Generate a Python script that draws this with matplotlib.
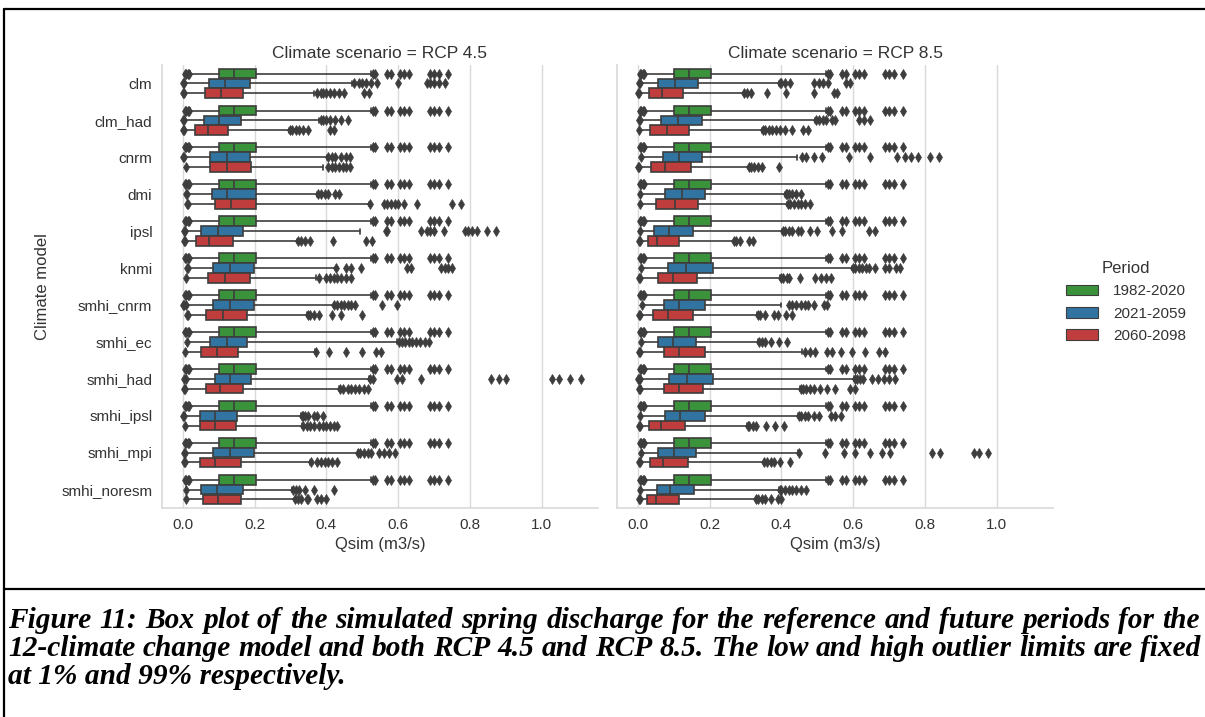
import numpy as np
import matplotlib.pyplot as plt
import seaborn as sns
from matplotlib.lines import Line2D
from matplotlib.patches import Patch

models = ['clm', 'clm_had', 'cnrm', 'dmi', 'ipsl', 'knmi', 'smhi_cnrm',
          'smhi_ec', 'smhi_had', 'smhi_ipsl', 'smhi_mpi', 'smhi_noresm']
periods = ['1982-2020', '2021-2059', '2060-2098']
scenarios = ['RCP 4.5', 'RCP 8.5']

# each row: whisker low (1%), q1, median, q3, whisker high (99%)
# reference period is the same for every model and both scenarios
ref_box = [0.020, 0.101, 0.143, 0.204, 0.524]
ref_fliers = [0.006, 0.010, 0.014, 0.018, 0.53, 0.535, 0.57, 0.58, 0.605, 0.615,
              0.63, 0.69, 0.70, 0.715, 0.74]

rcp45_mid = [
    [0.005, 0.072, 0.117, 0.187, 0.471],
    [0.005, 0.058, 0.101, 0.162, 0.380],
    [0.005, 0.075, 0.123, 0.187, 0.403],
    [0.013, 0.081, 0.124, 0.203, 0.375],
    [0.007, 0.050, 0.097, 0.169, 0.494],
    [0.016, 0.085, 0.132, 0.199, 0.426],
    [0.010, 0.085, 0.132, 0.199, 0.420],
    [0.014, 0.075, 0.123, 0.180, 0.596],
    [0.010, 0.089, 0.131, 0.191, 0.519],
    [0.005, 0.048, 0.089, 0.150, 0.329],
    [0.007, 0.083, 0.132, 0.197, 0.487],
    [0.010, 0.050, 0.095, 0.167, 0.305],
]
rcp45_mid_fliers = [
    [0.0, 0.003, 0.478, 0.49, 0.50, 0.51, 0.525, 0.54, 0.60, 0.68, 0.69, 0.70, 0.715, 0.73],
    [0.0, 0.003, 0.385, 0.39, 0.40, 0.41, 0.425, 0.44, 0.46],
    [0.0, 0.003, 0.405, 0.415, 0.425, 0.44, 0.455, 0.465],
    [0.008, 0.011, 0.378, 0.385, 0.395, 0.405, 0.425, 0.435],
    [0.002, 0.005, 0.565, 0.57, 0.663, 0.68, 0.69, 0.70, 0.728, 0.785, 0.795, 0.805,
     0.82, 0.848, 0.874],
    [0.011, 0.014, 0.428, 0.455, 0.47, 0.496, 0.626, 0.635, 0.72, 0.73, 0.74, 0.75],
    [0.0, 0.004, 0.008, 0.422, 0.43, 0.44, 0.45, 0.46, 0.47, 0.48, 0.556, 0.596],
    [0.012, 0.603, 0.61, 0.62, 0.63, 0.64, 0.65, 0.66, 0.675, 0.686],
    [0.004, 0.008, 0.521, 0.53, 0.598, 0.612, 0.663, 0.858, 0.88, 0.90, 1.03, 1.047,
     1.08, 1.11],
    [0.0, 0.003, 0.332, 0.335, 0.34, 0.35, 0.366, 0.375, 0.39],
    [0.002, 0.005, 0.489, 0.495, 0.505, 0.515, 0.525, 0.547, 0.56, 0.575, 0.59],
    [0.008, 0.307, 0.315, 0.325, 0.34, 0.366, 0.421],
]

rcp45_end = [
    [0.005, 0.061, 0.106, 0.167, 0.366],
    [0.005, 0.033, 0.071, 0.127, 0.296],
    [0.012, 0.075, 0.123, 0.190, 0.392],
    [0.016, 0.090, 0.134, 0.203, 0.519],
    [0.007, 0.036, 0.073, 0.139, 0.319],
    [0.012, 0.071, 0.117, 0.186, 0.372],
    [0.016, 0.066, 0.113, 0.180, 0.347],
    [0.008, 0.050, 0.095, 0.155, 0.369],
    [0.009, 0.064, 0.103, 0.169, 0.435],
    [0.009, 0.048, 0.089, 0.149, 0.333],
    [0.007, 0.047, 0.090, 0.162, 0.355],
    [0.010, 0.057, 0.099, 0.162, 0.312],
]
rcp45_end_fliers = [
    [0.0, 0.003, 0.375, 0.385, 0.39, 0.40, 0.41, 0.42, 0.435, 0.45, 0.505, 0.52],
    [0.0, 0.003, 0.298, 0.305, 0.315, 0.325, 0.335, 0.35, 0.41, 0.42],
    [0.010, 0.405, 0.415, 0.425, 0.435, 0.445, 0.455, 0.465],
    [0.011, 0.014, 0.521, 0.56, 0.57, 0.58, 0.59, 0.60, 0.615, 0.654, 0.75, 0.775],
    [0.002, 0.005, 0.321, 0.33, 0.34, 0.355, 0.419, 0.51, 0.528],
    [0.010, 0.38, 0.40, 0.41, 0.42, 0.43, 0.44, 0.455, 0.468],
    [0.011, 0.014, 0.349, 0.355, 0.365, 0.38, 0.417, 0.44, 0.50],
    [0.006, 0.371, 0.408, 0.454, 0.499, 0.538, 0.552],
    [0.004, 0.007, 0.437, 0.445, 0.46, 0.47, 0.48, 0.49, 0.505, 0.515],
    [0.007, 0.335, 0.345, 0.355, 0.365, 0.38, 0.39, 0.40, 0.41, 0.42, 0.43],
    [0.002, 0.005, 0.357, 0.375, 0.385, 0.395, 0.405, 0.415, 0.43],
    [0.008, 0.314, 0.32, 0.33, 0.345, 0.35, 0.375, 0.385, 0.40],
]

rcp85_mid = [
    [0.009, 0.056, 0.103, 0.167, 0.393],
    [0.007, 0.065, 0.111, 0.179, 0.495],
    [0.012, 0.070, 0.114, 0.180, 0.444],
    [0.009, 0.075, 0.122, 0.188, 0.411],
    [0.008, 0.045, 0.088, 0.153, 0.402],
    [0.011, 0.084, 0.133, 0.210, 0.597],
    [0.014, 0.072, 0.114, 0.186, 0.399],
    [0.011, 0.056, 0.097, 0.161, 0.335],
    [0.009, 0.088, 0.136, 0.210, 0.602],
    [0.009, 0.075, 0.117, 0.187, 0.447],
    [0.011, 0.056, 0.100, 0.161, 0.447],
    [0.009, 0.054, 0.091, 0.156, 0.393],
]
rcp85_mid_fliers = [
    [0.004, 0.007, 0.395, 0.40, 0.41, 0.425, 0.49, 0.505, 0.515, 0.53, 0.58, 0.59],
    [0.002, 0.005, 0.497, 0.505, 0.515, 0.525, 0.54, 0.55, 0.616, 0.63, 0.648],
    [0.010, 0.458, 0.47, 0.49, 0.513, 0.588, 0.648, 0.722, 0.745, 0.76, 0.78, 0.815, 0.838],
    [0.007, 0.413, 0.415, 0.42, 0.43, 0.44, 0.455],
    [0.006, 0.404, 0.41, 0.42, 0.43, 0.445, 0.455, 0.48, 0.50, 0.54, 0.57, 0.643, 0.66],
    [0.009, 0.60, 0.605, 0.615, 0.625, 0.635, 0.645, 0.662, 0.69, 0.70, 0.72, 0.73],
    [0.012, 0.42, 0.43, 0.44, 0.455, 0.465, 0.475, 0.49, 0.518, 0.527],
    [0.009, 0.337, 0.345, 0.355, 0.37, 0.393, 0.416],
    [0.0, 0.004, 0.007, 0.604, 0.61, 0.62, 0.628, 0.653, 0.668, 0.685, 0.70, 0.718],
    [0.007, 0.449, 0.455, 0.465, 0.475, 0.49, 0.505, 0.537, 0.55, 0.565],
    [0.009, 0.449, 0.523, 0.574, 0.604, 0.648, 0.68, 0.704, 0.82, 0.843, 0.936, 0.95, 0.977],
    [0.007, 0.395, 0.40, 0.41, 0.42, 0.43, 0.44, 0.455, 0.47],
]

rcp85_end = [
    [0.005, 0.031, 0.068, 0.125, 0.295],
    [0.005, 0.033, 0.080, 0.142, 0.346],
    [0.005, 0.037, 0.077, 0.149, 0.309],
    [0.009, 0.052, 0.103, 0.168, 0.416],
    [0.007, 0.028, 0.053, 0.116, 0.267],
    [0.009, 0.056, 0.097, 0.166, 0.397],
    [0.009, 0.042, 0.084, 0.153, 0.332],
    [0.007, 0.072, 0.114, 0.188, 0.458],
    [0.009, 0.072, 0.114, 0.182, 0.453],
    [0.007, 0.031, 0.065, 0.131, 0.305],
    [0.007, 0.033, 0.070, 0.139, 0.351],
    [0.007, 0.026, 0.051, 0.114, 0.328],
]
rcp85_end_fliers = [
    [0.0, 0.003, 0.297, 0.305, 0.315, 0.36, 0.414, 0.49, 0.546, 0.555],
    [0.003, 0.348, 0.355, 0.365, 0.375, 0.385, 0.395, 0.41, 0.43, 0.46, 0.474],
    [0.0, 0.003, 0.311, 0.315, 0.325, 0.335, 0.345, 0.393],
    [0.007, 0.418, 0.425, 0.435, 0.445, 0.455, 0.465, 0.48],
    [0.002, 0.005, 0.269, 0.275, 0.285, 0.31, 0.32],
    [0.004, 0.007, 0.399, 0.405, 0.415, 0.42, 0.453, 0.495, 0.51, 0.525, 0.537],
    [0.004, 0.007, 0.334, 0.34, 0.355, 0.38, 0.39, 0.414, 0.43],
    [0.002, 0.005, 0.467, 0.48, 0.495, 0.527, 0.54, 0.565, 0.597, 0.634, 0.671, 0.69],
    [0.004, 0.007, 0.455, 0.46, 0.47, 0.48, 0.49, 0.508, 0.527, 0.55, 0.592, 0.606],
    [0.002, 0.005, 0.307, 0.31, 0.32, 0.328, 0.356, 0.383, 0.407],
    [0.002, 0.005, 0.353, 0.36, 0.37, 0.38, 0.395, 0.425],
    [0.002, 0.005, 0.33, 0.335, 0.345, 0.355, 0.37, 0.39, 0.398],
]

caption = [
    'Figure 11: Box plot of the simulated spring discharge for the reference and future periods for the',
    '12-climate change model and both RCP 4.5 and RCP 8.5. The low and high outlier limits are fixed',
    'at 1% and 99% respectively.',
]

sns.set_theme(style='whitegrid')
plt.rcParams['font.family'] = ['Liberation Sans', 'DejaVu Sans']

palette = [sns.desaturate(c, 0.75) for c in ['tab:green', 'tab:blue', 'tab:red']]
gray = '#3d3d3d'
bw = 0.8 / 3

W, H = 1205, 717
fig = plt.figure(figsize=(W / 100, H / 100), dpi=100)


def px_axes(x0, y0, x1, y1):
    return fig.add_axes([x0 / W, 1 - y1 / H, (x1 - x0) / W, (y1 - y0) / H])


axes = [px_axes(162, 65, 598, 508), px_axes(617, 65, 1053, 508)]
series = {
    'RCP 4.5': [([ref_box] * 12, [ref_fliers] * 12),
                (rcp45_mid, rcp45_mid_fliers), (rcp45_end, rcp45_end_fliers)],
    'RCP 8.5': [([ref_box] * 12, [ref_fliers] * 12),
                (rcp85_mid, rcp85_mid_fliers), (rcp85_end, rcp85_end_fliers)],
}

pos = np.arange(len(models))
for i, (ax, scen) in enumerate(zip(axes, scenarios)):
    for j, (boxes, fliers) in enumerate(series[scen]):
        stats = [dict(whislo=b[0], q1=b[1], med=b[2], q3=b[3], whishi=b[4], fliers=f)
                 for b, f in zip(boxes, fliers)]
        ax.bxp(stats, positions=pos + (j - 1) * bw, widths=bw * 0.98,
               orientation='horizontal', patch_artist=True, manage_ticks=False,
               boxprops=dict(facecolor=palette[j], edgecolor=gray, linewidth=1.2),
               medianprops=dict(color=gray, linewidth=1.2),
               whiskerprops=dict(color=gray, linewidth=1.2),
               capprops=dict(color=gray, linewidth=1.2),
               flierprops=dict(marker='d', markersize=4.6, markerfacecolor=gray,
                               markeredgecolor=gray, markeredgewidth=0.5,
                               linestyle='none'))
    ax.set_ylim(11.5, -0.5)
    ax.set_xlim(-0.058, 1.157)
    ax.set_xticks([0, 0.2, 0.4, 0.6, 0.8, 1.0])
    ax.set_xticklabels(['0.0', '0.2', '0.4', '0.6', '0.8', '1.0'])
    ax.set_yticks(pos)
    ax.set_yticklabels(models if i == 0 else [])
    ax.yaxis.grid(False)
    ax.xaxis.grid(True, color='.85', linewidth=1)
    for s in ['top', 'right']:
        ax.spines[s].set_visible(False)
    for s in ['left', 'bottom']:
        ax.spines[s].set_color('.85')
        ax.spines[s].set_linewidth(1.2)
    ax.tick_params(length=0, labelsize=11, labelcolor='.2', pad=7)
    ax.set_title(f'Climate scenario = {scen}', fontsize=12.5, color='.2', pad=5)
    ax.set_xlabel('Qsim (m3/s)', fontsize=12, color='.2', labelpad=4)

axes[0].set_ylabel('Climate model', fontsize=12, color='.2', labelpad=8)

handles = [Patch(facecolor=c, edgecolor=gray, linewidth=0.8) for c in palette]
leg = fig.legend(handles, periods, title='Period', loc='center left',
                 bbox_to_anchor=(1052 / W, 1 - 302 / H), frameon=False,
                 fontsize=11, title_fontsize=12, handlelength=2.1,
                 handleheight=0.7, labelspacing=0.55, handletextpad=1.0)
for t in leg.get_texts():
    t.set_color('.2')
leg.get_title().set_color('.2')

# page frame around the figure and caption
frame = dict(color='black', linewidth=1.6, transform=None)
for xs, ys in [([4, W], [9, 9]), ([4, 4], [9, H]), ([4, W], [589, 589])]:
    fig.add_artist(Line2D(xs, [H - y for y in ys], **frame))

# caption, justified like the document text
renderer = fig.canvas.get_renderer()
cap_font = dict(family='Liberation Serif', weight='bold', style='italic', color='black')
probe = fig.text(0, 0, caption[0], fontsize=10, **cap_font)
size = 10 * 1180 / probe.get_window_extent(renderer).width
probe.remove()

x0, x1 = 8, 1200
for k, (line, y) in enumerate(zip(caption, [620, 648, 677])):
    if k == 2:
        fig.text(x0 / W, 1 - y / H, line, fontsize=size, va='center', **cap_font)
        continue
    words = line.split(' ')
    texts = [fig.text(0, 1 - y / H, w, fontsize=size, va='center', **cap_font) for w in words]
    widths = [t.get_window_extent(renderer).width for t in texts]
    gap = (x1 - x0 - sum(widths)) / (len(words) - 1)
    x = x0
    for t, w in zip(texts, widths):
        t.set_x(x / W)
        x += w + gap

fig.savefig('out.png', dpi=100)
